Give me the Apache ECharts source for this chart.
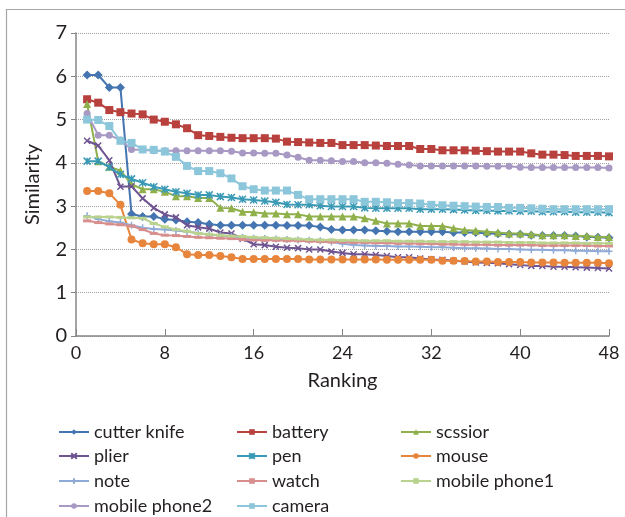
<!DOCTYPE html>
<html>
<head>
<meta charset="utf-8">
<script src="https://cdn.jsdelivr.net/npm/echarts@6/dist/echarts.min.js"></script>
<style>
html,body{margin:0;padding:0;background:#fff;}
#c{width:625px;height:517px;}
</style>
</head>
<body>
<div id="c"></div>
<script>
const ranks = [1,2,3,4,5,6,7,8,9,10,11,12,13,14,15,16,17,18,19,20,21,22,23,24,25,26,27,28,29,30,31,32,33,34,35,36,37,38,39,40,41,42,43,44,45,46,47,48];
const xTicks = [0,8,16,24,32,40,48];
const yTicks = [0,1,2,3,4,5,6,7];

const cutterKnife = [6.03,6.03,5.74,5.74,2.82,2.76,2.76,2.70,2.68,2.64,2.62,2.58,2.56,2.56,2.56,2.56,2.56,2.56,2.55,2.55,2.55,2.52,2.46,2.45,2.45,2.45,2.43,2.42,2.41,2.41,2.41,2.41,2.41,2.39,2.39,2.39,2.37,2.36,2.35,2.35,2.33,2.32,2.32,2.32,2.31,2.29,2.28,2.27];
const battery = [5.47,5.39,5.22,5.17,5.14,5.12,5.00,4.95,4.89,4.80,4.64,4.62,4.60,4.58,4.57,4.57,4.57,4.56,4.49,4.48,4.47,4.46,4.46,4.41,4.41,4.41,4.40,4.39,4.39,4.39,4.32,4.32,4.29,4.29,4.29,4.28,4.27,4.26,4.26,4.26,4.22,4.19,4.19,4.18,4.16,4.16,4.16,4.15];
const scssior = [5.36,4.04,3.91,3.82,3.51,3.39,3.39,3.33,3.23,3.23,3.19,3.19,2.96,2.95,2.87,2.86,2.83,2.83,2.81,2.81,2.76,2.76,2.76,2.76,2.76,2.72,2.66,2.60,2.60,2.60,2.54,2.54,2.54,2.49,2.45,2.43,2.41,2.39,2.37,2.37,2.35,2.33,2.33,2.33,2.31,2.31,2.29,2.29];
const plier = [4.51,4.40,4.06,3.45,3.46,3.18,2.96,2.81,2.74,2.56,2.51,2.48,2.39,2.37,2.25,2.12,2.10,2.06,2.04,2.03,2.00,2.00,1.95,1.92,1.89,1.89,1.87,1.85,1.82,1.82,1.79,1.77,1.76,1.74,1.72,1.70,1.69,1.68,1.66,1.64,1.62,1.62,1.60,1.60,1.59,1.58,1.57,1.56];
const pen = [4.04,4.04,3.90,3.73,3.63,3.54,3.45,3.39,3.33,3.30,3.26,3.26,3.22,3.20,3.16,3.14,3.12,3.09,3.04,3.03,3.03,3.01,2.99,2.99,2.99,2.96,2.95,2.95,2.95,2.95,2.93,2.93,2.93,2.92,2.91,2.90,2.90,2.89,2.89,2.88,2.88,2.87,2.87,2.87,2.86,2.86,2.86,2.85];
const mouse = [3.35,3.35,3.30,3.03,2.23,2.14,2.12,2.12,2.05,1.89,1.87,1.87,1.85,1.82,1.78,1.78,1.78,1.78,1.78,1.78,1.77,1.77,1.77,1.77,1.77,1.77,1.77,1.76,1.76,1.76,1.76,1.76,1.74,1.74,1.73,1.72,1.72,1.71,1.71,1.71,1.70,1.70,1.70,1.69,1.69,1.69,1.69,1.68];
const note = [2.78,2.70,2.65,2.62,2.56,2.50,2.47,2.46,2.44,2.41,2.38,2.34,2.32,2.30,2.28,2.26,2.25,2.24,2.23,2.22,2.21,2.20,2.17,2.13,2.10,2.09,2.08,2.08,2.07,2.07,2.06,2.05,2.05,2.04,2.03,2.03,2.02,2.01,2.01,2.00,1.99,1.99,1.98,1.98,1.97,1.97,1.96,1.96];
const watch = [2.66,2.62,2.59,2.57,2.54,2.46,2.37,2.33,2.32,2.30,2.28,2.27,2.26,2.25,2.23,2.22,2.21,2.21,2.20,2.20,2.19,2.18,2.17,2.17,2.16,2.16,2.15,2.15,2.14,2.14,2.13,2.13,2.12,2.12,2.11,2.11,2.11,2.10,2.10,2.10,2.10,2.09,2.09,2.09,2.09,2.09,2.08,2.08];
const mobilePhone1 = [2.75,2.75,2.75,2.74,2.73,2.72,2.60,2.52,2.46,2.42,2.37,2.35,2.33,2.31,2.30,2.28,2.27,2.26,2.25,2.24,2.23,2.22,2.22,2.21,2.21,2.20,2.20,2.20,2.19,2.19,2.19,2.18,2.18,2.18,2.18,2.17,2.17,2.17,2.16,2.16,2.16,2.15,2.15,2.15,2.15,2.14,2.14,2.14];
const mobilePhone2 = [5.14,4.64,4.64,4.53,4.31,4.30,4.28,4.28,4.28,4.28,4.28,4.28,4.28,4.27,4.23,4.23,4.22,4.22,4.18,4.13,4.06,4.06,4.05,4.03,4.03,4.00,4.00,3.99,3.97,3.95,3.93,3.93,3.93,3.93,3.93,3.93,3.92,3.92,3.92,3.90,3.89,3.89,3.89,3.89,3.89,3.89,3.89,3.88];
const camera = [5.00,4.99,4.85,4.51,4.46,4.31,4.30,4.26,4.14,3.93,3.81,3.81,3.76,3.64,3.46,3.39,3.36,3.36,3.36,3.26,3.16,3.16,3.16,3.16,3.16,3.10,3.10,3.09,3.07,3.07,3.06,3.03,3.02,3.01,3.00,2.99,2.98,2.98,2.96,2.96,2.95,2.94,2.93,2.93,2.93,2.93,2.93,2.93];

const seriesNames = ['cutter knife','battery','scssior','plier','pen','mouse','note','watch','mobile phone1','mobile phone2','camera'];
const seriesValues = [cutterKnife,battery,scssior,plier,pen,mouse,note,watch,mobilePhone1,mobilePhone2,camera];

const FONT = 'Lato';
const styles = {
  'cutter knife': {color:'#4475B0', symbol:'diamond', size:9},
  'battery': {color:'#B8413E', symbol:'rect', size:8},
  'scssior': {color:'#8FB04A', symbol:'triangle', size:8},
  'plier': {color:'#6E5491', symbol:'path://M0,0L10,10M10,0L0,10', size:6, stroke:true},
  'pen': {color:'#3A9AB5', symbol:'path://M0,0L10,10M10,0L0,10M5,0L5,10', size:7, stroke:true},
  'mouse': {color:'#E8853C', symbol:'circle', size:8},
  'note': {color:'#8EAAD6', symbol:'path://M5,0L5,10M0,5L10,5', size:7, stroke:true},
  'watch': {color:'#D78E8C', symbol:'path://M0,0L10,0L10,3L0,3Z', size:[8,3]},
  'mobile phone1': {color:'#B9D28E', symbol:'path://M0,0L10,0L10,3L0,3Z', size:[8,3]},
  'mobile phone2': {color:'#A899C4', symbol:'circle', size:7},
  'camera': {color:'#8CC6DA', symbol:'rect', size:8}
};

const series = seriesNames.map((name, i) => {
  const st = styles[name];
  return {
    name: name,
    type: 'line',
    data: ranks.map((r, j) => [r, seriesValues[i][j]]),
    symbol: st.symbol,
    symbolSize: st.size,
    showAllSymbol: true,
    lineStyle: {color: st.color, width: 2},
    itemStyle: {color: st.color, borderColor: st.color, borderWidth: st.stroke ? 1.5 : 0},
    emphasis: {disabled: true},
    animation: false,
    z: 2 + i
  };
});

// legend layout: 3 columns x 4 rows, row-major order as in the reference
const legendCols = [58, 236, 400];
const legendRows = [432, 456, 481, 506];
const legendText = {fontFamily: FONT, fontSize: 18, color: '#231F20', lineHeight: 18};
const legends = seriesNames.map((name, i) => ({
  left: legendCols[i % 3],
  top: legendRows[Math.floor(i / 3)] - 9,
  padding: 0,
  itemWidth: 30, itemHeight: 7, itemGap: 0,
  textStyle: legendText, data: [name], selectedMode: false
}));

const chart = echarts.init(document.getElementById('c'), null, {renderer: 'canvas'});
chart.setOption({
  animation: false,
  backgroundColor: '#ffffff',
  grid: {left: 76, right: 16, top: 33, bottom: 181, containLabel: false},
  xAxis: {
    type: 'value', min: xTicks[0], max: xTicks[xTicks.length - 1], interval: 8,
    name: 'Ranking', nameLocation: 'middle', nameGap: 35,
    nameTextStyle: {fontFamily: FONT, fontSize: 20, color: '#231F20'},
    axisLine: {lineStyle: {color: '#868686', width: 1.5}},
    axisTick: {show: true, inside: true, length: 7, lineStyle: {color: '#868686'}},
    axisLabel: {fontFamily: FONT, fontSize: 18, color: '#231F20', margin: 8},
    splitLine: {show: false}
  },
  yAxis: {
    type: 'value', min: yTicks[0], max: yTicks[yTicks.length - 1], interval: 1,
    name: 'Similarity', nameLocation: 'middle', nameGap: 33, nameRotate: 90,
    nameTextStyle: {fontFamily: FONT, fontSize: 20, color: '#231F20'},
    axisLine: {show: true, lineStyle: {color: '#868686', width: 1.5}},
    axisTick: {show: true, length: 5, lineStyle: {color: '#868686'}},
    axisLabel: {fontFamily: FONT, fontSize: 20, color: '#231F20', margin: 9},
    splitLine: {show: true, lineStyle: {color: '#A0A0A0', type: [1, 1], width: 1}}
  },
  legend: legends,
  graphic: [{
    type: 'rect', left: 4, top: 7, silent: true,
    shape: {width: 640, height: 530},
    style: {fill: 'none', stroke: '#A6A6A6', lineWidth: 1.2}
  }],
  series: series
});
</script>
</body>
</html>
